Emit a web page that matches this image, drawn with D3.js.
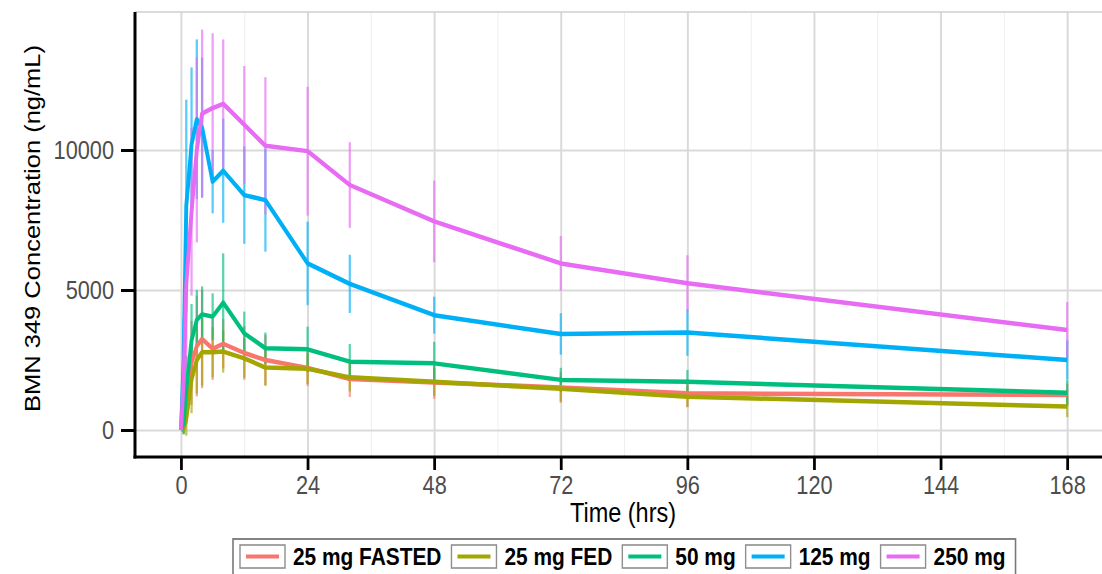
<!DOCTYPE html>
<html>
<head>
<meta charset="utf-8">
<script src="https://cdn.jsdelivr.net/npm/d3@7"></script>
<style>
  html, body { margin: 0; padding: 0; background: #fff; overflow: hidden; }
  text { font-family: "Liberation Sans", Arial, Helvetica, sans-serif; }
</style>
</head>
<body>
<svg id="chart" width="1102" height="574"></svg>
<script>
// Sampling times (hours after dose)
const times = [0, 0.5, 1, 2, 3, 4, 6, 8, 12, 16, 24, 32, 48, 72, 96, 168];

// Dose groups
const groups = ["25 mg FASTED", "25 mg FED", "50 mg", "125 mg", "250 mg"];
const groupColors = ["#F8766D", "#A3A500", "#00BF7D", "#00B0F6", "#E76BF3"];

// Mean concentration (ng/mL) per group at each sampling time
const meanFasted = [0, 200, 1100, 2400, 3000, 3250, 2900, 3080, 2750, 2500, 2220, 1820, 1700, 1520, 1310, 1250];
const meanFed    = [0, 50, 400, 1800, 2500, 2780, 2780, 2800, 2560, 2230, 2190, 1880, 1720, 1470, 1190, 840];
const mean50     = [0, 250, 1450, 3200, 3930, 4130, 4050, 4550, 3450, 2920, 2880, 2440, 2380, 1790, 1725, 1330];
const mean125    = [0, 2500, 8000, 10200, 11100, 10800, 8870, 9260, 8390, 8210, 5950, 5220, 4100, 3430, 3480, 2500];
const mean250    = [0, 1800, 5200, 7800, 10000, 11300, 11500, 11650, 10900, 10150, 9960, 8750, 7450, 5950, 5240, 3570];

// Standard deviation (ng/mL) per group at each sampling time
const sdFasted = [0, 300, 900, 1500, 1800, 1760, 1110, 880, 960, 900, 650, 640, 590, 550, 500, 400];
const sdFed    = [0, 200, 600, 1200, 1200, 1200, 900, 750, 700, 650, 550, 500, 500, 450, 360, 380];
const sd50     = [0, 400, 1200, 1300, 1070, 1000, 830, 1760, 780, 560, 810, 630, 770, 430, 420, 450];
const sd125    = [0, 1500, 3800, 2750, 2850, 2500, 1130, 1860, 1740, 1840, 1490, 1040, 660, 740, 830, 700];
const sd250    = [0, 1500, 3000, 3000, 3300, 3000, 2670, 2300, 2100, 2450, 2300, 1530, 1460, 980, 1000, 1000];

const means = [meanFasted, meanFed, mean50, mean125, mean250];
const sds = [sdFasted, sdFed, sd50, sd125, sd250];

// Axis ticks
const xTicks = [0, 24, 48, 72, 96, 120, 144, 168];
const xMinorTicks = [12, 36, 60, 84, 108, 132, 156];
const yTicks = [0, 5000, 10000];

// ---- layout -------------------------------------------------------------
// The drawing is laid out in a horizontally condensed coordinate space.
const K = 0.87;
const W = 1102, H = 574;
const VW = W / K;
const X = px => px / K;

const panel = { left: X(135), right: X(1111), top: 12, bottom: 457 };

const svg = d3.select("#chart")
  .attr("viewBox", `0 0 ${VW} ${H}`)
  .attr("preserveAspectRatio", "none");

svg.append("rect").attr("width", VW).attr("height", H).attr("fill", "#fff");

const x = d3.scaleLinear().domain([-8.72, 176.3]).range([panel.left, panel.right]);
const y = d3.scaleLinear().domain([-964, 14929]).range([panel.bottom, panel.top]);

// ---- grid -----------------------------------------------------------------
const grid = svg.append("g");
grid.append("g")
  .attr("transform", `translate(0,${panel.bottom})`)
  .call(d3.axisBottom(x).tickValues(xMinorTicks).tickSize(-(panel.bottom - panel.top)).tickFormat(""))
  .call(g => g.select(".domain").remove())
  .call(g => g.selectAll("line").attr("stroke", "#efefef").attr("stroke-width", 1.2));
grid.append("g")
  .attr("transform", `translate(0,${panel.bottom})`)
  .call(d3.axisBottom(x).tickValues(xTicks).tickSize(-(panel.bottom - panel.top)).tickFormat(""))
  .call(g => g.select(".domain").remove())
  .call(g => g.selectAll("line").attr("stroke", "#d9d9d9").attr("stroke-width", 2.2));
grid.append("g")
  .attr("transform", `translate(${panel.left},0)`)
  .call(d3.axisLeft(y).tickValues(yTicks).tickSize(-(panel.right - panel.left)).tickFormat(""))
  .call(g => g.select(".domain").remove())
  .call(g => g.selectAll("line").attr("stroke", "#d9d9d9").attr("stroke-width", 1.8));

// light panel border (top / right)
svg.append("path")
  .attr("d", `M${panel.left},${panel.top}H${panel.right}V${panel.bottom}`)
  .attr("fill", "none").attr("stroke", "#d0d0d0").attr("stroke-width", 1.5);

// ---- error bars ---------------------------------------------------------------
const bars = svg.append("g");
groups.forEach((name, gi) => {
  const pts = times.map((t, i) => ({ t, m: means[gi][i], s: sds[gi][i] })).filter(d => d.s > 0);
  bars.selectAll(null)
    .data(pts)
    .enter().append("line")
    .attr("x1", d => x(d.t)).attr("x2", d => x(d.t))
    .attr("y1", d => y(d.m - d.s)).attr("y2", d => y(d.m + d.s))
    .attr("stroke", groupColors[gi])
    .attr("stroke-opacity", 0.65)
    .attr("stroke-width", 2.6);
});

// ---- mean profiles --------------------------------------------------------------
const line = d3.line().x(d => x(d.t)).y(d => y(d.m));
const lines = svg.append("g");
groups.forEach((name, gi) => {
  const pts = times.map((t, i) => ({ t, m: means[gi][i] }));
  lines.append("path")
    .datum(pts)
    .attr("d", line)
    .attr("fill", "none")
    .attr("stroke", groupColors[gi])
    .attr("stroke-width", 4.5)
    .attr("stroke-linejoin", "round");
});

// ---- axes -------------------------------------------------------------------------
const tickFont = 25;
const xAxis = svg.append("g")
  .attr("transform", `translate(0,${panel.bottom})`)
  .call(d3.axisBottom(x).tickValues(xTicks).tickSize(13).tickPadding(6).tickSizeOuter(0).tickFormat(d3.format("d")));
xAxis.select(".domain").remove();
xAxis.selectAll("line").attr("stroke", "#000").attr("stroke-width", 3.2);
xAxis.selectAll("text").attr("font-size", tickFont).attr("fill", "#4d4d4d")
  .attr("font-family", "Liberation Sans, Arial, sans-serif");

const yAxis = svg.append("g")
  .attr("transform", `translate(${panel.left},0)`)
  .call(d3.axisLeft(y).tickValues(yTicks).tickSize(X(14)).tickPadding(X(7)).tickSizeOuter(0).tickFormat(d3.format("d")));
yAxis.select(".domain").remove();
yAxis.selectAll("line").attr("stroke", "#000").attr("stroke-width", 3);
yAxis.selectAll("text").attr("font-size", tickFont).attr("fill", "#4d4d4d")
  .attr("font-family", "Liberation Sans, Arial, sans-serif");

// axis lines
svg.append("line")
  .attr("x1", panel.left).attr("x2", panel.left)
  .attr("y1", panel.top).attr("y2", panel.bottom + 1.5)
  .attr("stroke", "#000").attr("stroke-width", X(3));
svg.append("line")
  .attr("x1", panel.left - X(1.5)).attr("x2", panel.right)
  .attr("y1", panel.bottom).attr("y2", panel.bottom)
  .attr("stroke", "#000").attr("stroke-width", 3);

// axis titles
svg.append("text")
  .attr("x", (panel.left + panel.right) / 2).attr("y", 522)
  .attr("text-anchor", "middle").attr("font-size", 27).attr("fill", "#000")
  .text("Time (hrs)");
svg.append("text")
  .attr("transform", `translate(${X(40)},${(panel.top + panel.bottom) / 2 - 6}) rotate(-90)`)
  .attr("text-anchor", "middle").attr("font-size", 25.5).attr("fill", "#000")
  .text("BMN 349 Concentration (ng/mL)");

// ---- legend ----------------------------------------------------------------------
const legend = svg.append("g");
const legTop = 539, keyTop = 545, keyH = 23;
const keyW = X(45), keyGap = X(8), itemGap = X(10);
let cx = X(240);
groups.forEach((name, gi) => {
  const item = legend.append("g");
  item.append("rect")
    .attr("x", cx).attr("y", keyTop).attr("width", keyW).attr("height", keyH)
    .attr("fill", "#fff").attr("stroke", "#8f8f8f").attr("stroke-width", 1.6);
  item.append("line")
    .attr("x1", cx + X(6)).attr("x2", cx + keyW - X(6))
    .attr("y1", keyTop + keyH / 2).attr("y2", keyTop + keyH / 2)
    .attr("stroke", groupColors[gi]).attr("stroke-width", 4);
  const txt = item.append("text")
    .attr("x", cx + keyW + keyGap).attr("y", keyTop + keyH / 2 + 8.5)
    .attr("font-size", 24).attr("font-weight", "bold").attr("fill", "#000")
    .text(name);
  cx = cx + keyW + keyGap + txt.node().getComputedTextLength() + itemGap;
});
legend.insert("rect", ":first-child")
  .attr("x", X(233)).attr("y", legTop).attr("width", cx - X(233)).attr("height", 44)
  .attr("fill", "#fff").attr("stroke", "#777").attr("stroke-width", 1.8);
</script>
</body>
</html>
